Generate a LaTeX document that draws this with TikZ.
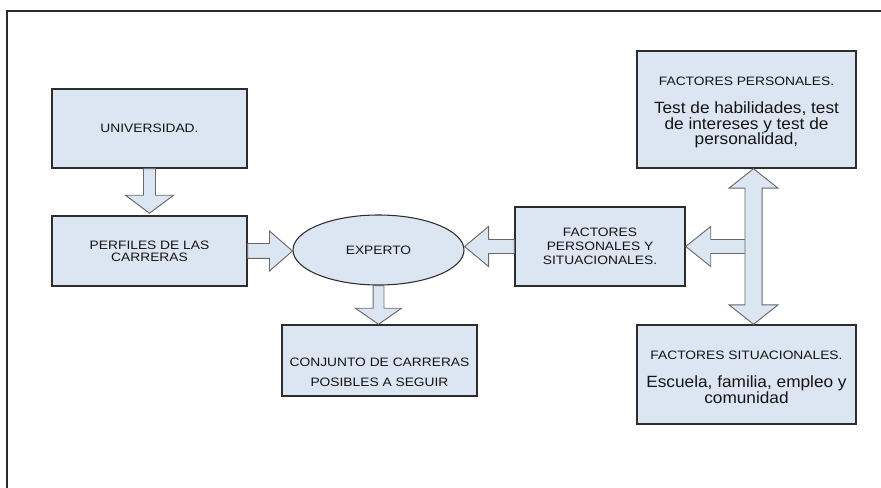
\documentclass[tikz,border=0pt]{standalone}
\usepackage{fontspec}
\setmainfont{Liberation Sans}
\newfontfamily\capsfont[FakeStretch=1.13]{Liberation Sans}
\newfontfamily\bodyfont[FakeStretch=1.06]{Liberation Sans}
\usetikzlibrary{calc,shapes.geometric}

\definecolor{boxfill}{RGB}{220,230,242}
\definecolor{boxline}{RGB}{45,45,45}
\definecolor{arrowline}{RGB}{105,105,105}
\definecolor{inktext}{RGB}{20,20,20}

\tikzset{
  box/.style={draw=boxline, fill=boxfill, line width=1.1pt, inner sep=0pt,
    align=center, text=inktext},
  oval/.style={ellipse, draw=boxline, fill=boxfill, line width=0.8pt, inner sep=0pt,
    text=inktext},
  capsize/.style={font=\capsfont\fontsize{9.15pt}{#1}\selectfont},
  bodysize/.style={font=\bodyfont\fontsize{12.2pt}{#1}\selectfont},
  % single block arrow: #1 half shaft width, #2 half head width, #3 head length
  blockarrow/.style n args={3}{draw=arrowline, fill=boxfill, line width=0.7pt,
    line join=miter,
    to path={
      ($(\tikztostart)!#1!90:(\tikztotarget)$)
      -- ($(\tikztotarget)!#3!(\tikztostart)!#1!-90:(\tikztostart)$)
      -- ($(\tikztotarget)!#3!(\tikztostart)!#2!-90:(\tikztostart)$)
      -- (\tikztotarget)
      -- ($(\tikztotarget)!#3!(\tikztostart)!#2!90:(\tikztostart)$)
      -- ($(\tikztotarget)!#3!(\tikztostart)!#1!90:(\tikztostart)$)
      -- ($(\tikztostart)!#1!-90:(\tikztotarget)$)
      -- cycle}},
  % block arrow with a head at both ends
  doublearrow/.style n args={3}{draw=arrowline, fill=boxfill, line width=0.7pt,
    line join=miter,
    to path={
      (\tikztostart)
      -- ($(\tikztostart)!#3!(\tikztotarget)!#2!90:(\tikztotarget)$)
      -- ($(\tikztostart)!#3!(\tikztotarget)!#1!90:(\tikztotarget)$)
      -- ($(\tikztotarget)!#3!(\tikztostart)!#1!-90:(\tikztostart)$)
      -- ($(\tikztotarget)!#3!(\tikztostart)!#2!-90:(\tikztostart)$)
      -- (\tikztotarget)
      -- ($(\tikztotarget)!#3!(\tikztostart)!#2!90:(\tikztostart)$)
      -- ($(\tikztotarget)!#3!(\tikztostart)!#1!90:(\tikztostart)$)
      -- ($(\tikztostart)!#3!(\tikztotarget)!#1!-90:(\tikztotarget)$)
      -- ($(\tikztostart)!#3!(\tikztotarget)!#2!-90:(\tikztotarget)$)
      -- cycle}},
  frame/.style={draw=boxline, line width=1.1pt}
}

\begin{document}
\begin{tikzpicture}[x=0.75pt, y=-0.75pt]
  \useasboundingbox[fill=white] (0,0) rectangle (881,488);

  % page frame
  \draw[frame] (7,488) -- (7,11) -- (881,11);

  % boxes
  \node[box, capsize=10pt, minimum width=146.25pt, minimum height=59.25pt]
    (uni) at (149.5,128.5) {UNIVERSIDAD.};
  \node[box, capsize=8.85pt, minimum width=146.25pt, minimum height=52.5pt]
    (perf) at (149.5,251) {PERFILES DE LAS\\CARRERAS};
  \node[oval, capsize=10pt, minimum width=128.25pt, minimum height=52.5pt]
    (exp) at (378.5,250) {EXPERTO};
  \node[box, capsize=15pt, minimum width=146.25pt, minimum height=53.25pt]
    (conj) at (379.5,360.5) {\rule{0pt}{23.9pt}CONJUNTO DE CARRERAS\\POSIBLES A SEGUIR};
  \node[box, capsize=10.5pt, minimum width=127.5pt, minimum height=59.25pt]
    (fps) at (600,246.5) {FACTORES\\PERSONALES Y\\SITUACIONALES.};
  \node[box, bodysize=11.5pt, minimum width=164.25pt, minimum height=87.75pt]
    (fp) at (746.5,109.5)
    {{\capsfont\fontsize{9.15pt}{10pt}\selectfont\rule{0pt}{11pt}FACTORES PERSONALES.}\\[9.5pt]
     Test de habilidades, test\\de intereses y test de\\personalidad,};
  \node[box, bodysize=12pt, minimum width=164.25pt, minimum height=74.25pt]
    (fs) at (746.5,374.5)
    {{\capsfont\fontsize{9.15pt}{10pt}\selectfont\rule{0pt}{11pt}FACTORES SITUACIONALES.}\\[9pt]
     Escuela, familia, empleo y\\comunidad};

  % block arrows
  \draw[blockarrow={4.5pt}{18pt}{13.5pt}] (uni.south) to ($(perf.north)+(0,-2)$);
  \draw[blockarrow={5.6pt}{15pt}{17.25pt}] (perf.east) to (perf.east -| exp.west);
  \draw[blockarrow={5.25pt}{15pt}{18pt}] (fps.west) to (fps.west -| exp.east);
  \draw[blockarrow={4.1pt}{17.25pt}{12pt}] (exp.south) to (exp.south |- conj.north);

  \coordinate (junction) at ($(fps.east -| fp.south)+(7,0)$);
  \draw[blockarrow={5.25pt}{15pt}{18.75pt}] (junction) to (fps.east);
  \draw[doublearrow={6.4pt}{18.4pt}{14.6pt}] ($(fp.south)+(7,0)$) to ($(fs.north)+(7,0)$);
\end{tikzpicture}
\end{document}
